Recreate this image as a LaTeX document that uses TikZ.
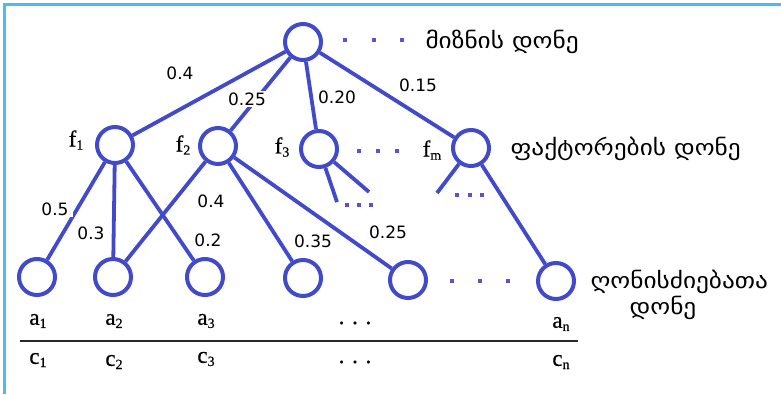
\documentclass[tikz,border=0pt]{standalone}
\usepackage{fontspec}
\setmainfont[FakeBold=0.6]{Liberation Serif}
\newfontfamily\geo[FakeStretch=1.15]{DejaVu Sans}
\newfontfamily\numf{DejaVu Sans}
\definecolor{nodeblue}{RGB}{66,74,204}
\definecolor{dotblue}{RGB}{95,80,205}
\definecolor{frameblue}{RGB}{70,190,240}
\definecolor{rulegray}{RGB}{40,40,40}
\tikzset{
  vert/.style={circle, draw=nodeblue, line width=4pt, minimum size=36pt, inner sep=0pt},
  edge/.style={draw=nodeblue, line width=3.8pt},
  wt/.style={font=\numf\fontsize{17}{17}\selectfont, fill=white, inner sep=1.5pt, text=black},
  nm/.style={font=\fontsize{23}{23}\selectfont, text=black},
  geotext/.style={font=\geo\fontsize{22}{24}\selectfont, text=black},
  dotm/.style={fill=dotblue, minimum size=4.5pt, inner sep=0pt},
}
\newcommand{\sub}[1]{\raisebox{-0.3ex}{\fontsize{14}{14}\selectfont #1}}
\begin{document}
\begin{tikzpicture}[x=1pt,y=-1pt]
\useasboundingbox (0,0) rectangle (781,394);
% frame
\draw[frameblue, line width=3pt] (3,4) -- (781,4);
\draw[frameblue, line width=3pt] (4,3) -- (4,394);
% nodes
\node[vert] (T) at (303,42) {};
\node[vert] (f1) at (115,145) {};
\node[vert] (f2) at (218,146) {};
\node[vert] (f3) at (319,149) {};
\node[vert] (fm) at (471,148) {};
\node[vert] (a1) at (37,277) {};
\node[vert] (a2) at (113,277) {};
\node[vert] (a3) at (205,277) {};
\node[vert] (a4) at (303,278) {};
\node[vert] (a5) at (408,280) {};
\node[vert] (an) at (556,281) {};
\coordinate (f3x) at (337,202);
\coordinate (f3y) at (369,192);
\coordinate (fmx) at (437,193);
% edges
\draw[edge] (T) -- (f1);
\draw[edge] (T) -- (f2);
\draw[edge] (T) -- (f3);
\draw[edge] (T) -- (fm);
\draw[edge] (f1) -- (a1);
\draw[edge] (f1) -- (a2);
\draw[edge] (f1) -- (a3);
\draw[edge] (f2) -- (a2);
\draw[edge] (f2) -- (a4);
\draw[edge] (f2) -- (a5);
\draw[edge] (f3) -- (f3x);
\draw[edge] (f3) -- (f3y);
\draw[edge] (fm) -- (fmx);
\draw[edge] (fm) -- (an);
% weights
\node[wt] (w1) at (180,73) {0.4};
\node[wt] (w2) at (247,99) {0.25};
\node[wt] (w3) at (337,97) {0.20};
\node[wt] (w4) at (418,85) {0.15};
\node[wt, inner xsep=4pt] (w5) at (55,209) {0.5};
\node[wt] (w6) at (91,233) {0.3};
\node[wt] (w7) at (211,201) {0.4};
\node[wt] (w8) at (208,240) {0.2};
\node[wt] (w9) at (313,241) {0.35};
\node[wt] (w10) at (388,232) {0.25};
% dots
\foreach \x [count=\i] in {345,374,402} {\node[dotm] (dt\i) at (\x,40) {};}
\foreach \x [count=\i] in {359,378,397} {\node[dotm] (df\i) at (\x,151) {};}
\foreach \x [count=\i] in {347,359,371} {\node[dotm] (dg\i) at (\x,205) {};}
\foreach \x [count=\i] in {457,470,482} {\node[dotm] (dh\i) at (\x,195) {};}
\foreach \x [count=\i] in {452,480,508} {\node[dotm] (da\i) at (\x,281) {};}
% factor labels
\node[nm] (lf1) at (76,140) {f\sub{1}};
\node[nm] (lf2) at (183,145) {f\sub{2}};
\node[nm] (lf3) at (282,147) {f\sub{3}};
\node[nm] (lfm) at (432,150) {f\sub{m}};
% leaf labels
\node[nm] (la1) at (38,321) {a\sub{1}};
\node[nm] (la2) at (114,321) {a\sub{2}};
\node[nm] (la3) at (206,321) {a\sub{3}};
\node[nm] (lad) at (355,323) {. . .};
\node[nm] (lan) at (561,324) {a\sub{n}};
\draw[rulegray, line width=1.3pt] (20,341) -- (578,341);
\node[nm] (lc1) at (38,360) {c\sub{1}};
\node[nm] (lc2) at (114,362) {c\sub{2}};
\node[nm] (lc3) at (206,359) {c\sub{3}};
\node[nm] (lcd) at (355,362) {. . .};
\node[nm] (lcn) at (561,362) {c\sub{n}};
% level texts
\node[geotext, anchor=west] (g1) at (422,42) {მიზნის დონე};
\node[geotext, anchor=west] (g2) at (507,149) {ფაქტორების დონე};
\node[geotext, anchor=west] (g3) at (587,282) {ღონისძიებათა};
\node[geotext] (g4) at (663,308) {დონე};
\end{tikzpicture}
\end{document}
